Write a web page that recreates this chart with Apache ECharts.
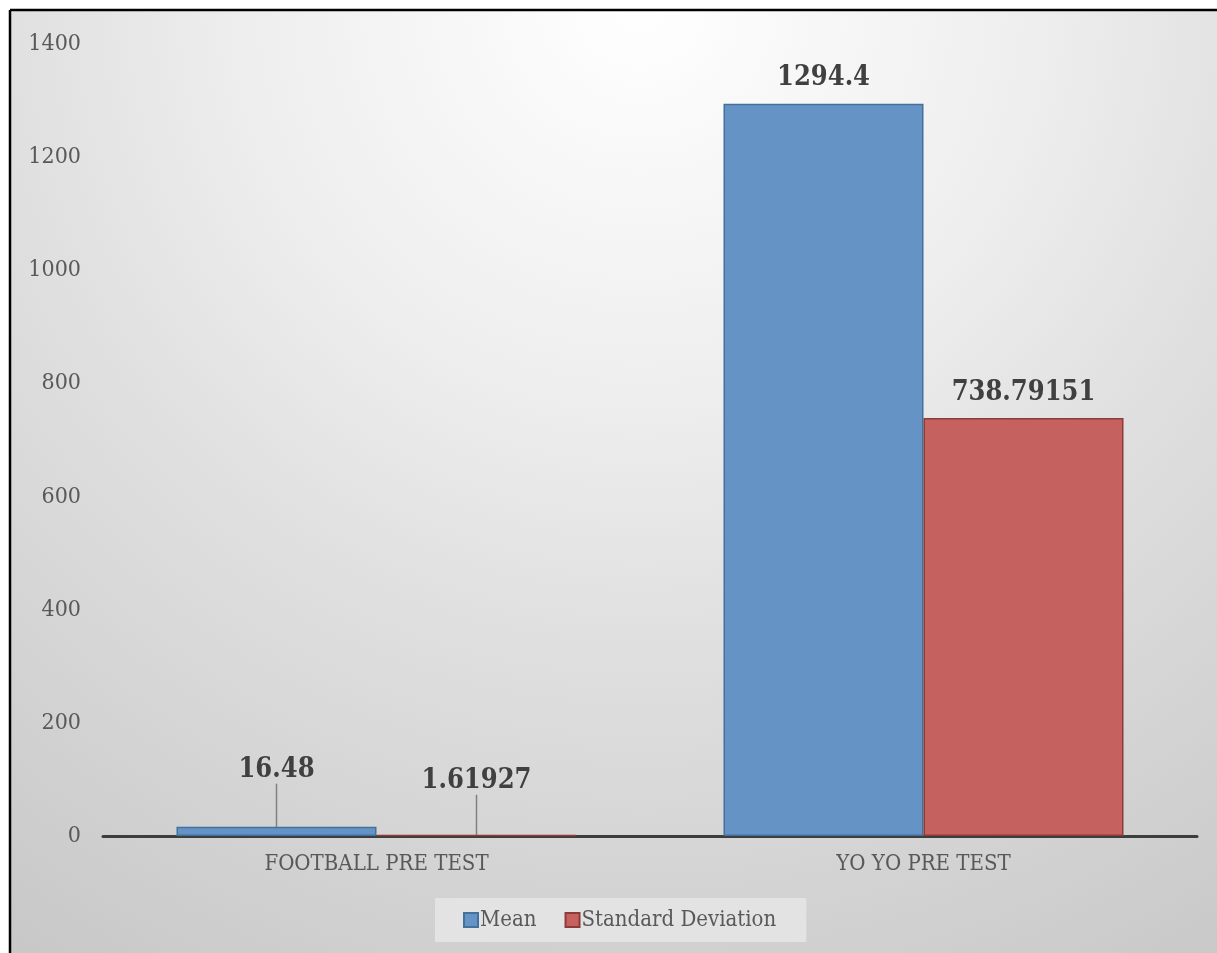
<!DOCTYPE html>
<html>
<head>
<meta charset="utf-8">
<script src="https://cdn.jsdelivr.net/npm/echarts@6/dist/echarts.min.js"></script>
<style>
html,body{margin:0;padding:0;background:#fff;}
#chart{width:1217px;height:953px;}
</style>
</head>
<body>
<div id="chart"></div>
<script>
var categories = ['FOOTBALL PRE TEST', 'YO YO PRE TEST'];
var meanValues = [16.48, 1294.4];
var sdValues = [1.61927, 738.79151];
var seriesNames = ['Mean', 'Standard Deviation'];
var yMin = 0, yMax = 1400, yInterval = 200;
// category whose small value labels are lifted with a leader line
var calloutIndex = 0;

var FONT = '"DejaVu Serif Condensed", "DejaVu Serif", serif';
var chart = echarts.init(document.getElementById('chart'));

function buildData(values) {
  return values.map(function (v, i) {
    return { value: v, labelLine: { show: i === calloutIndex } };
  });
}
function labelLayoutFor(dy) {
  return function (params) {
    if (params.dataIndex === calloutIndex) return { dy: dy };
    return {};
  };
}

var option = {
  animation: false,
  graphic: [{
    type: 'rect',
    z: -10,
    silent: true,
    shape: { x: 10, y: 10, width: 1400, height: 1100 },
    style: {
      fill: {
        type: 'radial', global: true, x: 640, y: 0, r: 1130,
        colorStops: [
          { offset: 0, color: '#ffffff' },
          { offset: 0.35, color: '#eeeeee' },
          { offset: 0.56, color: '#e0e0e0' },
          { offset: 1, color: '#c8c8c8' }
        ]
      }
    }
  }, {
    type: 'line', z: -9, silent: true,
    shape: { x1: 10, y1: 10, x2: 1400, y2: 10 },
    style: { stroke: '#000', lineWidth: 2.5 }
  }, {
    type: 'line', z: -9, silent: true,
    shape: { x1: 10, y1: 10, x2: 10, y2: 1100 },
    style: { stroke: '#000', lineWidth: 2.5 }
  }],
  grid: { left: 103, right: 20, top: 44, bottom: 117, containLabel: false },
  legend: {
    bottom: 11,
    left: 435,
    data: seriesNames,
    icon: 'rect',
    itemWidth: 14, itemHeight: 14,
    itemGap: 28,
    backgroundColor: '#e3e3e3',
    padding: [11, 30, 11, 28],
    textStyle: { fontFamily: FONT, fontSize: 22, color: '#595959', padding: [0, 0, 0, -3] }
  },
  xAxis: {
    type: 'category',
    data: categories,
    axisLine: { show: true, lineStyle: { color: '#3d3d3d', width: 3 } },
    axisTick: { show: false },
    axisLabel: { fontFamily: FONT, fontSize: 22, color: '#595959', margin: 17 },
    splitLine: { show: false }
  },
  yAxis: {
    type: 'value',
    min: yMin, max: yMax, interval: yInterval,
    axisLine: { show: false },
    axisTick: { show: false },
    splitLine: { show: false },
    axisLabel: {
      fontFamily: FONT, fontSize: 23, color: '#595959', margin: 22,
      formatter: function (v) { return String(v); }
    }
  },
  series: [{
    name: seriesNames[0],
    type: 'bar',
    data: buildData(meanValues),
    barWidth: 200,
    barGap: '0%',
    itemStyle: { color: '#6693c6', borderColor: '#41719c', borderWidth: 1.5 },
    label: {
      show: true, position: 'top', distance: 12,
      fontFamily: FONT, fontSize: 27, fontWeight: 'bold', color: '#404040'
    },
    labelLayout: labelLayoutFor(-31),
    labelLine: { lineStyle: { color: '#808080', width: 1.5 } }
  }, {
    name: seriesNames[1],
    type: 'bar',
    data: buildData(sdValues),
    barWidth: 200,
    barGap: '0%',
    itemStyle: { color: '#c5625f', borderColor: '#8c3b39', borderWidth: 1.5 },
    label: {
      show: true, position: 'top', distance: 12,
      fontFamily: FONT, fontSize: 27, fontWeight: 'bold', color: '#404040'
    },
    labelLayout: labelLayoutFor(-28),
    labelLine: { lineStyle: { color: '#808080', width: 1.5 } }
  }]
};
chart.setOption(option);
</script>
</body>
</html>
